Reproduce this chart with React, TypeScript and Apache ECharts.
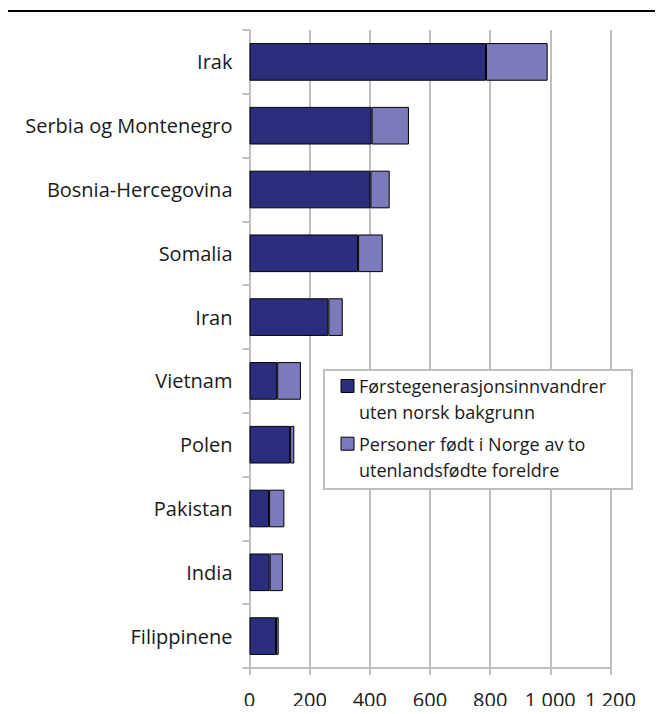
import React, { useEffect, useRef } from "react";
import * as echarts from "echarts";

const categories = [
  "Irak",
  "Serbia og Montenegro",
  "Bosnia-Hercegovina",
  "Somalia",
  "Iran",
  "Vietnam",
  "Polen",
  "Pakistan",
  "India",
  "Filippinene",
];
const firstGen = [786, 406, 402, 361, 262, 92, 135, 65, 67, 88];
const bornInNorway = [205, 124, 64, 82, 48, 79, 14, 51, 44, 9];
const seriesNames = [
  "Førstegenerasjonsinnvandrer\nuten norsk bakgrunn",
  "Personer født i Norge av to\nutenlandsfødte foreldre",
];

const FONT = "'Open Sans', 'Noto Sans', sans-serif";

export default function App() {
  const ref = useRef<HTMLDivElement>(null);
  useEffect(() => {
    if (!ref.current) return;
    const chart = echarts.init(ref.current, null, { renderer: "svg" });
    chart.setOption({
      animation: false,
      backgroundColor: "#ffffff",
      textStyle: { fontFamily: FONT },
      graphic: [
        {
          type: "line",
          shape: { x1: 6, y1: 11, x2: 663, y2: 11 },
          style: { stroke: "#000", lineWidth: 2 },
        },
        {
          type: "rect",
          z: 1,
          shape: { x: 324, y: 370, width: 308, height: 119 },
          style: { fill: "#fff", stroke: "#bfbfbf", lineWidth: 2 },
        },
      ],
      grid: { left: 249.5, right: 52.5, top: 30, bottom: 46, containLabel: false },
      legend: {
        orient: "vertical",
        left: 340.5,
        top: 347,
        padding: 0,
        itemGap: -20.3,
        itemWidth: 13,
        itemHeight: 13,
        icon: "rect",
        z: 3,
        formatter: (name: string) => "\u00a0\n" + name,
        data: seriesNames.map((n) => ({
          name: n,
          itemStyle: { borderColor: "#000", borderWidth: 1 },
        })),
        textStyle: {
          fontFamily: FONT,
          fontSize: 18,
          color: "#1a1a1a",
          lineHeight: 26,
        },
      },
      xAxis: {
        type: "value",
        min: 0,
        max: 1200,
        interval: 200,
        axisLine: { show: true, lineStyle: { color: "#bfbfbf", width: 2 } },
        axisTick: { show: true, length: 7, lineStyle: { color: "#bfbfbf", width: 2 } },
        splitLine: { show: true, lineStyle: { color: "#bfbfbf", width: 2 } },
        axisLabel: {
          margin: 21,
          fontSize: 20,
          color: "#1a1a1a",
          fontFamily: FONT,
          formatter: (v: number) =>
            String(v).replace(/\B(?=(\d{3})+(?!\d))/g, " "),
        },
      },
      yAxis: {
        type: "category",
        inverse: true,
        data: categories,
        axisLine: { show: true, lineStyle: { color: "#bfbfbf", width: 2 } },
        axisTick: { show: true, length: 7, lineStyle: { color: "#bfbfbf", width: 2 } },
        axisLabel: { margin: 17, fontSize: 20, color: "#1a1a1a", fontFamily: FONT },
      },
      series: [
        {
          name: seriesNames[0],
          type: "bar",
          stack: "total",
          data: firstGen,
          barCategoryGap: "41%",
          itemStyle: { color: "#2a2e7c", borderColor: "#000", borderWidth: 1 },
        },
        {
          name: seriesNames[1],
          type: "bar",
          stack: "total",
          data: bornInNorway,
          barCategoryGap: "41%",
          itemStyle: { color: "#7b7aba", borderColor: "#000", borderWidth: 1 },
        },
      ],
    });
    return () => chart.dispose();
  }, []);
  return <div ref={ref} style={{ width: 663, height: 714, margin: -8 }} />;
}
